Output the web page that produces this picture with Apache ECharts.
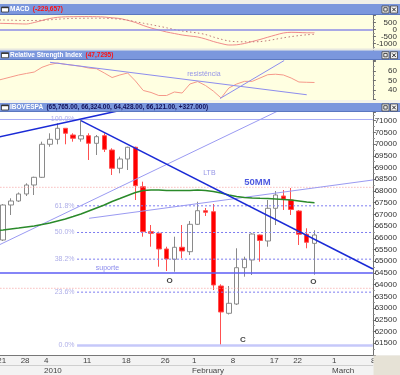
<!DOCTYPE html>
<html><head><meta charset="utf-8">
<script src="https://cdn.jsdelivr.net/npm/echarts@6/dist/echarts.min.js"></script>
<style>html,body{margin:0;padding:0;background:#fff}#c{width:400px;height:375px}</style>
</head><body><div id="c"></div>
<script>
const dates = ['2009-12-21','2009-12-22','2009-12-23','2009-12-28','2009-12-29','2009-12-30',
'2010-01-04','2010-01-05','2010-01-06','2010-01-07','2010-01-08',
'2010-01-11','2010-01-12','2010-01-13','2010-01-14','2010-01-15',
'2010-01-18','2010-01-19','2010-01-20','2010-01-21','2010-01-22',
'2010-01-26','2010-01-27','2010-01-28','2010-01-29',
'2010-02-01','2010-02-02','2010-02-03','2010-02-04','2010-02-05',
'2010-02-08','2010-02-09','2010-02-10','2010-02-11','2010-02-12',
'2010-02-17','2010-02-18','2010-02-19',
'2010-02-22','2010-02-23','2010-02-24','2010-02-25','2010-02-26',
'2010-03-01','2010-03-02','2010-03-03','2010-03-04','2010-03-05','2010-03-08'];

const open  = [null,65908,67402,67573,67872,68256,68584,69993,70206,70676,70390,70219,70360,70035,70360,69749,68968,69365,69865,68183,66263,66194,65524,65084,65597,65409,66578,67159,67116,63945,62780,63177,64726,65055,66122,65866,67261,67786,67615,67146,66152,65765];
const high  = [null,67445,67688,67936,68328,68610,70104,70462,70889,70688,70462,71051,70462,70390,70462,69822,69464,69890,69890,68397,66548,66263,65622,66049,66548,66719,67543,67274,67445,64018,63945,65554,65196,66194,66143,67615,68000,68042,68128,67189,66408,66324];
const low   = [null,65866,66975,67530,67786,67829,68555,69890,69993,69993,70104,70104,69323,69536,69664,68682,68755,68896,67615,66049,65622,64769,64585,64555,65127,65268,66548,66933,63774,61406,62729,63134,64342,64414,64982,65622,66548,67189,66975,65695,65554,64428];
const close = [null,67402,67573,67872,68256,68584,69993,70206,70676,70462,70249,70360,70035,70317,69779,68968,69365,69865,68226,66263,66194,65524,65097,65597,65439,66578,67159,67091,63988,62835,63207,64726,65084,66164,65887,67261,67829,67645,67210,66152,65810,66121];
const ma50  = [66300,66335,66378,66420,66463,66506,66570,66634,66719,66805,66911,67018,67146,67274,67402,67551,67679,67808,67936,68021,68042,68042,68021,68021,68021,68021,68042,68021,67978,67914,67829,67765,67722,67701,67688,67679,67658,67637,67615,67573,67530,67500];
const macdLine   = [437,430,415,401,387,493,634,775,859,894,901,908,908,901,880,824,775,648,493,282,106,-35,-176,-282,-387,-458,-528,-669,-845,-986,-1092,-1077,-986,-845,-704,-542,-387,-246,-197,-211,-232,-230];
const macdSignal = [669,669,655,641,634,634,648,683,725,761,782,789,796,796,789,768,725,655,549,444,338,232,120,0,-106,-176,-246,-352,-528,-683,-810,-859,-866,-866,-852,-782,-683,-585,-500,-430,-373,-338];
const rsi = [49.3,51.4,53.5,55.6,57.2,58.7,63.7,66.6,68.2,66.8,65.8,64.7,62.9,62.2,57.7,52.9,55.6,57.7,49.3,39.3,37.2,34.0,34.0,37.7,36.6,46.1,48.7,44.5,38.7,31.4,41.9,46.1,48.9,48.9,52.4,55.9,56.4,55.6,52.4,48.2,47.9,47.7];

// drawn studies, endpoints in (trading-day index, value)
const ltbLine     = [[11, 71000], [48.5, 64670]];
const upperLine   = [[-0.5, 70237], [16, 71437]];
const channelLine = [[-0.5, 65540], [36.5, 71446]];
const lowerTrend  = [[12.05, 66834], [48.5, 68469]];
const supportLevel = 64500;
const redLevels = [68157, 63847];
const fibRatios = [1, 0.618, 0.5, 0.382, 0.236, 0];
const fibStart = 10.5;
const rsiResist = [[7.03, 68.95], [40, 34.8]];
const rsiRise   = [[28.86, 30.8], [37.1, 70.8]];
const priceNotes = [['O', 22.4, 64188], ['O', 40.84, 64116], ['C', 31.8, 61670]];
const monthNames = ['January','February','March','April','May','June','July','August','September','October','November','December'];

const N = dates.length;
const dt = dates.map(s => new Date(s + 'T00:00:00Z'));
function isWeekStart(i){ if(i===0) return true; const a=dt[i-1], b=dt[i];
  const wa=(a.getUTCDay()+6)%7, wb=(b.getUTCDay()+6)%7; return wb<wa || (b-a)>=7*864e5; }
function isMonthStart(i){ return i>0 && dt[i].getUTCMonth()!==dt[i-1].getUTCMonth(); }
const ohlc = dates.map((d,i)=> open[i]==null ? ['-','-','-','-'] : [open[i], close[i], low[i], high[i]]);
const hiV = Math.max(...high.filter(v=>v!=null)), loV = Math.min(...low.filter(v=>v!=null));
const fibLevels = fibRatios.map(r => loV + r*(hiV-loV));

const FONT = 'Liberation Sans';
const cat = {type:'category', data:dates, boundaryGap:true};
function yAx(grid, min, max, iv, lo, hi){
  return {type:'value', gridIndex:grid, position:'right', min:min, max:max, interval:iv, scale:true,
    axisLine:{show:true, onZero:false, lineStyle:{color:'#707070'}},
    axisTick:{show:true, length:3, lineStyle:{color:'#707070'}},
    minorTick:{show:true, splitNumber:2, length:2, lineStyle:{color:'#909090'}},
    splitLine:{show:false},
    axisLabel:{fontSize:8, fontFamily:FONT, color:'#333', align:'right', margin:24,
      formatter:v => (v>=lo-1e-6 && v<=hi+1e-6) ? String(Math.round(v)) : ''}};
}
const seg = (d, color, width, type) => ({type:'line', xAxisIndex:4, yAxisIndex:2, data:d, symbol:'none', silent:true,
  lineStyle:{color:color, width:width, type:type||'solid'}});
const txt = (xi, yi, data, style, pos) => ({type:'scatter', xAxisIndex:xi, yAxisIndex:yi, symbolSize:1, silent:true,
  itemStyle:{color:'rgba(0,0,0,0)'}, data:data,
  label:Object.assign({show:true, position:pos||'inside', fontFamily:FONT}, style)});

const series = [
  {type:'line', xAxisIndex:0, yAxisIndex:0, data:macdLine, symbol:'none', smooth:0.3, silent:true,
    lineStyle:{color:'#f08a8a', width:1},
    markLine:{silent:true, symbol:'none', label:{show:false}, lineStyle:{color:'#8c8ce6', type:'solid', width:1.5}, data:[{yAxis:0}]}},
  {type:'line', xAxisIndex:0, yAxisIndex:0, data:macdSignal, symbol:'none', smooth:0.3, silent:true,
    lineStyle:{color:'#c07a7a', width:1, type:[1.5,2.5]}},
  {type:'line', xAxisIndex:1, yAxisIndex:1, data:rsi, symbol:'none', silent:true, lineStyle:{color:'#f5998a', width:1}},
  {type:'line', xAxisIndex:5, yAxisIndex:1, data:rsiResist, symbol:'none', silent:true, lineStyle:{color:'#8d8dee', width:1}},
  {type:'line', xAxisIndex:5, yAxisIndex:1, data:rsiRise, symbol:'none', silent:true, lineStyle:{color:'#8d8dee', width:1}},
  txt(5, 1, [{value:[26.8, 56.6], label:{formatter:'resistência'}}], {fontSize:7, color:'#7b7bea'}),
  // horizontal levels
  seg([[-0.5, fibLevels[0]], [N-0.5, fibLevels[0]]], '#a9aef5', 1),
  ...fibLevels.slice(1,5).map(v => seg([[fibStart, v], [N-0.5, v]], '#7c7cf0', 1, [2,2])),
  seg([[fibStart, fibLevels[5]], [N-0.5, fibLevels[5]]], '#c6c8fa', 2.5),
  ...redLevels.map(v => seg([[-0.5, v], [N-0.5, v]], '#f59a9a', 1, [1,2])),
  seg([[-0.5, supportLevel], [N-0.5, supportLevel]], '#5d5df5', 1.5),
  txt(4, 2, fibLevels.map((v,k)=>({value:[fibStart, v], label:{formatter:(fibRatios[k]*100).toFixed(1)+'%'}})),
      {fontSize:7, color:'#9a9ae2', distance:2}, 'left'),
  // candles
  {type:'candlestick', xAxisIndex:2, yAxisIndex:2, data:ohlc, barWidth:5, silent:true,
    itemStyle:{color:'#ffffff', color0:'#ff0000', borderColor:'#8a8a8a', borderColor0:'#ff5050', borderWidth:1}},
  // trend lines & MA
  seg(channelLine, '#9a9af2', 1),
  seg(lowerTrend, '#9a9af2', 1),
  {type:'line', xAxisIndex:2, yAxisIndex:2, data:ma50, symbol:'none', silent:true, lineStyle:{color:'#2a8a2a', width:1.5}},
  seg(ltbLine, '#1a2ad6', 1.5),
  seg(upperLine, '#1a2ad6', 1.5),
  txt(4, 2, [{value:[14.41, supportLevel], label:{formatter:'suporte'}}], {fontSize:7, color:'#6b6be8', distance:1}, 'top'),
  txt(4, 2, [{value:[27.5, 68781], label:{formatter:'LTB'}}], {fontSize:7, color:'#7b7be0'}),
  txt(4, 2, [{value:[33.66, 68362], label:{formatter:'50MM'}}], {fontSize:9.5, fontWeight:'bold', color:'#2030d8'}),
  txt(4, 2, priceNotes.map(n => ({value:[n[1], n[2]], label:{formatter:n[0]}})), {fontSize:8, fontWeight:'bold', color:'#111'})
];

function header(y, h, title, extra, extraColor){
  const cy = y + h/2;
  return [
    {type:'rect', z:100, shape:{x:0, y:y, width:400, height:h}, style:{fill:'#7b97dd'}},
    {type:'rect', z:100, shape:{x:0, y:y+h-1, width:400, height:1}, style:{fill:'#5c78c0'}},
    {type:'rect', z:101, shape:{x:1.5, y:cy-2.5, width:7, height:5}, style:{fill:'#fff', stroke:'#333', lineWidth:0.8}},
    {type:'rect', z:101, shape:{x:1.5, y:cy-2.5, width:7, height:1.2}, style:{fill:'#333'}},
    {type:'text', z:101, x:10, y:cy, style:{text:'{a|' + title + '} {b|' + extra + '}', verticalAlign:'middle',
      rich:{a:{fill:'#ffffff', fontWeight:'bold', fontSize:6.5, fontFamily:FONT},
            b:{fill:extraColor, fontWeight:'bold', fontSize:6.5, fontFamily:FONT}}}},
    {type:'rect', z:101, shape:{x:382, y:cy-3.5, width:7, height:7}, style:{fill:'#f2f2f2', stroke:'#444', lineWidth:0.8}},
    {type:'rect', z:101, shape:{x:383.8, y:cy-1.8, width:3.4, height:3.4}, style:{fill:'none', stroke:'#222', lineWidth:0.8}},
    {type:'rect', z:101, shape:{x:390.5, y:cy-3.5, width:7, height:7}, style:{fill:'#f2f2f2', stroke:'#444', lineWidth:0.8}},
    {type:'line', z:101, shape:{x1:392.2, y1:cy-1.8, x2:395.8, y2:cy+1.8}, style:{stroke:'#222', lineWidth:1}},
    {type:'line', z:101, shape:{x1:395.8, y1:cy-1.8, x2:392.2, y2:cy+1.8}, style:{stroke:'#222', lineWidth:1}}
  ];
}

const graphics = [
  {type:'rect', z:-10, shape:{x:0, y:15, width:400, height:34}, style:{fill:'#ffffe1'}},
  {type:'rect', z:-10, shape:{x:0, y:60, width:400, height:40}, style:{fill:'#ffffe1'}},
  {type:'rect', z:-10, shape:{x:0, y:112, width:400, height:243}, style:{fill:'#ffffff'}},
  {type:'rect', z:-10, shape:{x:0, y:355, width:400, height:20}, style:{fill:'#f3f3f3'}},
  {type:'rect', z:100, shape:{x:0, y:0, width:400, height:4}, style:{fill:'#efefe8'}},
  {type:'rect', z:100, shape:{x:0, y:48.5, width:400, height:2}, style:{fill:'#e8e8e0'}},
  {type:'rect', z:100, shape:{x:0, y:100, width:400, height:3}, style:{fill:'#f4f4ea'}},
  {type:'rect', z:100, shape:{x:373.5, y:355.5, width:26.5, height:19.5}, style:{fill:'#e6e2d6'}},
  ...header(4, 11, 'MACD', '(-229,657)', '#ff1010'),
  ...header(50.5, 9.5, 'Relative Strength Index', '(47,7295)', '#ff1010'),
  ...header(103, 9, 'IBOVESPA', '(65,765.00, 66,324.00, 64,428.00, 66,121.00, +327.000)', '#10105a')
];

const gridBase = {left:-8.6, right:27.1, outerBoundsMode:'none', containLabel:false};
const option = {
  animation:false,
  backgroundColor:'#f3f3ee',
  grid:[
    Object.assign({}, gridBase, {top:15.3, height:35.5}),
    Object.assign({}, gridBase, {top:60, height:39.3}),
    Object.assign({}, gridBase, {top:112, height:243})
  ],
  xAxis:[
    Object.assign({}, cat, {gridIndex:0, show:false}),
    Object.assign({}, cat, {gridIndex:1, show:false}),
    Object.assign({}, cat, {gridIndex:2, position:'bottom',
      axisLine:{onZero:false, lineStyle:{color:'#777'}},
      axisTick:{alignWithLabel:true, length:10, interval:(i)=>isWeekStart(i), lineStyle:{color:'#aaa'}},
      axisLabel:{interval:(i)=>isWeekStart(i), formatter:v=>String(+v.slice(8)), align:'left', padding:[0,0,0,2],
        margin:1.5, fontSize:8, fontFamily:FONT, color:'#444'},
      splitLine:{show:false}}),
    Object.assign({}, cat, {gridIndex:2, position:'bottom', offset:10,
      axisLine:{onZero:false, lineStyle:{color:'#cfcfcf'}},
      axisTick:{alignWithLabel:true, length:10, interval:(i)=>isMonthStart(i), lineStyle:{color:'#aaa'}},
      axisLabel:{interval:(i)=>isMonthStart(i), align:'left', padding:[0,0,0,2], margin:1.5, fontSize:8, fontFamily:FONT, color:'#444',
        formatter:(v)=>{ const d=new Date(v+'T00:00:00Z'); return d.getUTCMonth()===0 ? String(d.getUTCFullYear()) : monthNames[d.getUTCMonth()]; }},
      splitLine:{show:false}}),
    {type:'value', gridIndex:2, min:-0.5, max:N-0.5, show:false},
    {type:'value', gridIndex:1, min:-0.5, max:N-0.5, show:false}
  ],
  yAxis:[
    yAx(0, -1500, 1000, 500, -1000, 500),
    yAx(1, 30, 71.37, 10, 40, 60),
    yAx(2, 61000, 71371, 500, 61500, 71000)
  ],
  graphic:{elements:graphics},
  series:series
};
const chart = echarts.init(document.getElementById('c'), null, {renderer:'canvas'});
chart.setOption(option);
</script></body></html>
